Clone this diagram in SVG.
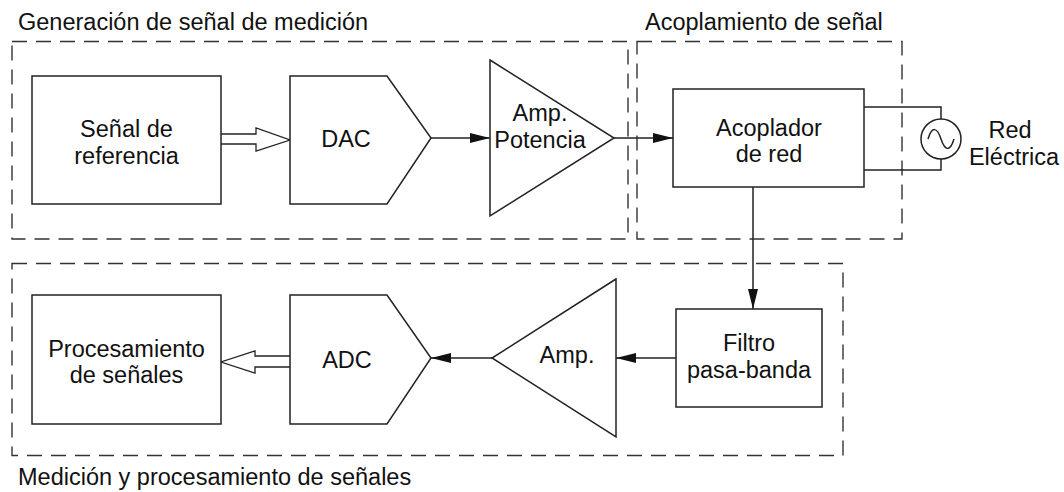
<svg xmlns="http://www.w3.org/2000/svg" width="1064" height="492" viewBox="0 0 1064 492">
<defs>
<style>
.t{font-family:"Liberation Sans",Arial,sans-serif;font-size:23.5px;fill:#111}
.c{text-anchor:middle}
.s{fill:#fff;stroke:#222;stroke-width:1.5}
.d{fill:none;stroke:#333;stroke-width:1.4;stroke-dasharray:15 9}
.l{fill:none;stroke:#222;stroke-width:1.5}
.h{fill:#fff;stroke:#222;stroke-width:1.3;stroke-linejoin:miter}
</style>
<marker id="ah" viewBox="0 0 20 10" refX="20" refY="5" markerWidth="20" markerHeight="10" markerUnits="userSpaceOnUse" orient="auto">
<path d="M0,0 L20,5 L0,10 Z" fill="#111"/>
</marker>
</defs>
<rect width="1064" height="492" fill="#fff"/>
<g id="groups">
<rect class="d" x="12" y="41.5" width="616" height="197.5"/>
<rect class="d" x="637" y="41.5" width="265" height="197.5"/>
<rect class="d" x="12" y="263.5" width="831" height="192"/>
<text class="t" x="18" y="30">Generación de señal de medición</text>
<text class="t" x="645" y="30">Acoplamiento de señal</text>
<text class="t" x="18" y="485">Medición y procesamiento de señales</text>
</g>
<g id="connectors">
<path class="h" d="M221,134 H256 V128 L290,140 L256,151 V144 H221"/>
<path class="h" d="M290,356 H255 V351 L221,362 L255,373 V367 H290"/>
<line class="l" x1="431" y1="138" x2="490" y2="138" marker-end="url(#ah)"/>
<line class="l" x1="614" y1="138" x2="673" y2="138" marker-end="url(#ah)"/>
<line class="l" x1="753" y1="187" x2="753" y2="309" marker-end="url(#ah)"/>
<line class="l" x1="676" y1="358" x2="616" y2="358" marker-end="url(#ah)"/>
<line class="l" x1="492" y1="358" x2="431" y2="358" marker-end="url(#ah)"/>
<path class="l" d="M864,107 H941 V119"/>
<path class="l" d="M864,170 H941 V159"/>
</g>
<g id="senal">
<rect class="s" x="32" y="76" width="189" height="128"/>
<text class="t c" x="126.5" y="137">Señal de</text>
<text class="t c" x="126.5" y="164">referencia</text>
</g>
<g id="dac">
<path class="s" d="M290,76 H387 L431,138 L387,204 H290 Z"/>
<text class="t c" x="346" y="147">DAC</text>
</g>
<g id="amp-potencia">
<path class="s" d="M490,60 L614,138 L490,216 Z"/>
<text class="t c" x="540" y="121">Amp.</text>
<text class="t c" x="540" y="148">Potencia</text>
</g>
<g id="acoplador">
<rect class="s" x="673" y="89" width="191" height="98"/>
<text class="t c" x="769" y="136">Acoplador</text>
<text class="t c" x="769" y="162">de red</text>
</g>
<g id="red">
<circle class="s" cx="941" cy="139" r="20"/>
<path class="l" d="M928,139 C932,126 937,127 941,139 C945,151 950,152 954,139"/>
<text class="t c" x="1010" y="138">Red</text>
<text class="t c" x="1014" y="165">Eléctrica</text>
</g>
<g id="filtro">
<rect class="s" x="676" y="309" width="146" height="98"/>
<text class="t c" x="749" y="351">Filtro</text>
<text class="t c" x="749" y="378">pasa-banda</text>
</g>
<g id="amp">
<path class="s" d="M616,279 L492,358 L616,437 Z"/>
<text class="t c" x="567" y="363">Amp.</text>
</g>
<g id="adc">
<path class="s" d="M290,295 H387 L431,358 L387,424 H290 Z"/>
<text class="t c" x="347" y="368">ADC</text>
</g>
<g id="procesamiento">
<rect class="s" x="32" y="295" width="189" height="129"/>
<text class="t c" x="126.5" y="357">Procesamiento</text>
<text class="t c" x="126.5" y="383">de señales</text>
</g>
</svg>
